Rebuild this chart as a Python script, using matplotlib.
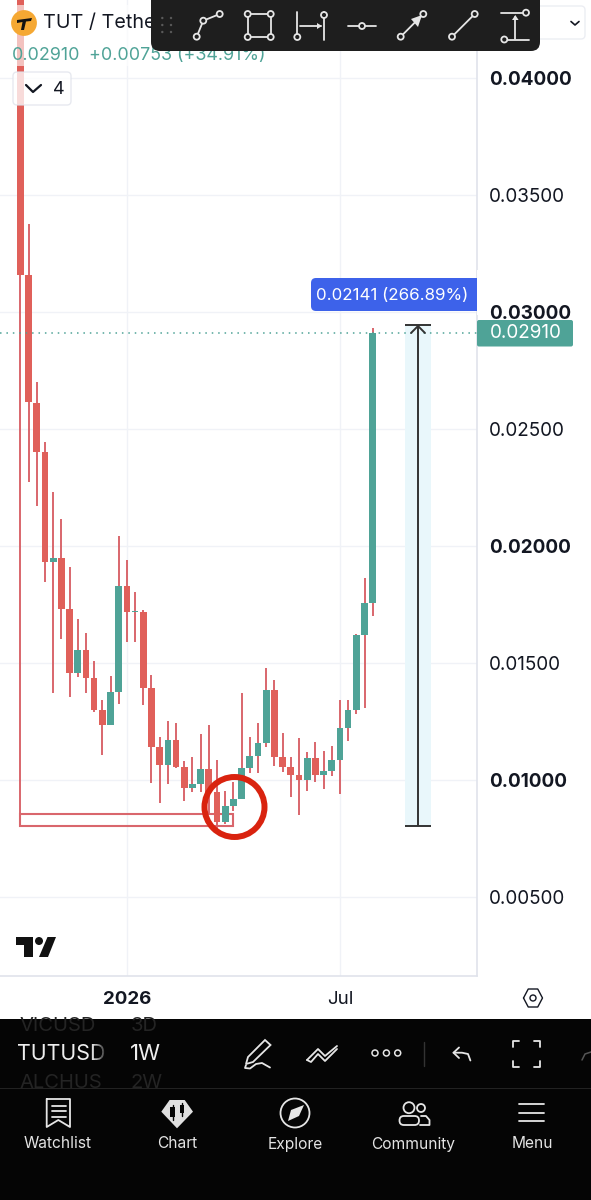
import matplotlib
matplotlib.use("Agg")
import numpy as np
import matplotlib.pyplot as plt
from matplotlib.patches import Rectangle, Circle, Polygon, FancyBboxPatch

plt.rcParams['font.family'] = ['Inter', 'DejaVu Sans']

# weekly candles, oldest first (first open/high are above the visible range)
opens = [0.04600, 0.03158, 0.02611, 0.02402, 0.01932, 0.01949, 0.01732, 0.01459, 0.01556, 0.01436, 0.01299,
         0.01235, 0.01376, 0.01829, 0.01716, 0.01718, 0.01393, 0.01141, 0.01064, 0.01173, 0.01056, 0.00966,
         0.00983, 0.01047, 0.00948, 0.00822, 0.00889, 0.00919, 0.01051, 0.01103, 0.01158, 0.01383, 0.01100,
         0.01057, 0.01021, 0.01000, 0.01094, 0.01023, 0.01038, 0.01085, 0.01222, 0.01299, 0.01620, 0.01755]
closes = [0.03158, 0.02615, 0.02402, 0.01932, 0.01949, 0.01732, 0.01459, 0.01556, 0.01436, 0.01299, 0.01235,
          0.01376, 0.01829, 0.01718, 0.01720, 0.01393, 0.01141, 0.01064, 0.01171, 0.01056, 0.00966, 0.00983,
          0.01047, 0.00949, 0.00822, 0.00889, 0.00919, 0.01051, 0.01103, 0.01158, 0.01383, 0.01100, 0.01057,
          0.01023, 0.01000, 0.01094, 0.01023, 0.01038, 0.01085, 0.01222, 0.01299, 0.01620, 0.01755, 0.02910]
highs = [0.04700, 0.03376, 0.02701, 0.02444, 0.02231, 0.02115, 0.01912, 0.01688, 0.01628, 0.01510, 0.01342,
         0.01446, 0.02044, 0.01940, 0.01805, 0.01725, 0.01449, 0.01185, 0.01252, 0.01245, 0.01082, 0.01100,
         0.01197, 0.01235, 0.01085, 0.00954, 0.00991, 0.01373, 0.01185, 0.01244, 0.01479, 0.01427, 0.01201,
         0.01100, 0.01181, 0.01120, 0.01162, 0.01125, 0.01147, 0.01342, 0.01342, 0.01624, 0.01863, 0.02932]
lows = [0.00803, 0.02273, 0.02171, 0.01846, 0.01372, 0.01603, 0.01356, 0.01440, 0.01373, 0.01291, 0.01107,
        0.01235, 0.01325, 0.01590, 0.01590, 0.01321, 0.00988, 0.00902, 0.00983, 0.01053, 0.00912, 0.00950,
        0.00950, 0.00850, 0.00786, 0.00812, 0.00868, 0.00917, 0.01031, 0.01031, 0.01142, 0.01060, 0.01035,
        0.00927, 0.00850, 0.00954, 0.00993, 0.00962, 0.01018, 0.00941, 0.01168, 0.01282, 0.01309, 0.01702]

price_ticks = [0.005, 0.010, 0.015, 0.020, 0.025, 0.030, 0.035, 0.040]
bold_prices = [0.010, 0.020, 0.030, 0.040]
time_ticks = [13, 39]
time_labels = ['2026', 'Jul']
last_price = 0.02910
measure_low = 0.00802
measure_high = 0.02943
box_low = 0.00802
box_high = 0.00853

GREEN = '#4fa397'
RED = '#e0605a'
WICK = '#d9666c'
GRID = '#f0f2f7'
BORDER = '#e0e3eb'
INK = '#131722'
ICON = '#e6e6e6'

W, H = 591, 1200
fig = plt.figure(figsize=(W / 100, H / 100), dpi=100, facecolor='white')

# chart pane
ax = fig.add_axes([0, 1 - 976 / H, 477 / W, 976 / H])
ax.set_xlim(-20.4 / 8.193, (477 - 20.4) / 8.193)
ax.set_ylim(0.04 - 898 / 23400, 0.04 + 78 / 23400)
for s in ['top', 'left']:
    ax.spines[s].set_visible(False)
ax.spines['right'].set_color(BORDER)
ax.spines['bottom'].set_color(BORDER)
ax.spines['right'].set_linewidth(1.2)
ax.spines['bottom'].set_linewidth(1.2)
ax.set_axisbelow(True)
ax.grid(True, color=GRID, lw=1)
ax.yaxis.tick_right()
ax.set_yticks(price_ticks)
ax.set_yticklabels(['%.5f' % p for p in price_ticks])
for lab, p in zip(ax.get_yticklabels(), price_ticks):
    lab.set_fontweight('bold' if p in bold_prices else 'normal')
    lab.set_color(INK)
ax.set_xticks(time_ticks)
ax.set_xticklabels(time_labels)
ax.get_xticklabels()[0].set_fontweight('bold')
ax.tick_params(axis='y', length=0, pad=8.5, labelsize=13.6)
ax.tick_params(axis='x', length=0, pad=11, labelsize=13.5, labelcolor=INK)

# long position box and measure tool sit under the candles
ax.add_patch(Rectangle((46.95, measure_low), 3.17, measure_high - measure_low, fc='#e9f7fb', ec='none', zorder=1))
ax.add_patch(Rectangle((0, box_low), 26, box_high - box_low, fc='none', ec=WICK, lw=1.5, zorder=2))

x = np.arange(len(opens))
o, c = np.array(opens), np.array(closes)
colors = [GREEN if b >= a else RED for a, b in zip(opens, closes)]
ax.vlines(x, lows, highs, color=WICK, lw=1.4, zorder=3)
ax.bar(x, np.maximum(np.abs(c - o), 0.00005), bottom=np.minimum(o, c), width=0.82, color=colors, zorder=4)

ax.axhline(last_price, color=GREEN, lw=1.1, ls=(0, (1, 3.2)), zorder=5)
ax.vlines(48.5, measure_low, measure_high, color='#333333', lw=1.4, zorder=6)
ax.hlines([measure_low, measure_high], 46.95, 50.12, color='#333333', lw=1.4, zorder=6)

# everything that belongs to the app itself is drawn in pixel coordinates
ui = fig.add_axes([0, 0, 1, 1], facecolor='none')
ui.set_xlim(0, W)
ui.set_ylim(H, 0)
ui.axis('off')


def line(xs, ys, color=ICON, lw=1.3, z=20):
    ui.plot(xs, ys, color=color, lw=lw, solid_capstyle='round', solid_joinstyle='round', zorder=z)


def ring(cx, cy, r, color=ICON, fc='none', lw=1.3, z=21):
    ui.add_patch(Circle((cx, cy), r, fc=fc, ec=color, lw=lw, zorder=z))


def rbox(x0, y0, w, h, r, fc, ec='none', lw=1, alpha=None, z=10):
    p = FancyBboxPatch((x0 + r, y0 + r), w - 2 * r, h - 2 * r, boxstyle='round,pad=%g' % r,
                       fc=fc, ec=ec, lw=lw, alpha=alpha, zorder=z)
    ui.add_patch(p)
    return p


# arrow head on the measure tool
line([411, 418, 425], [333, 326, 333], color='#333333', lw=1.4, z=6)

# legend
ui.add_patch(Rectangle((13, 5), 260, 61, fc='white', alpha=0.62, ec='none', zorder=8))
rbox(13, 72, 58, 33, 4, 'white', ec='#e0e3eb', lw=1, alpha=0.78, z=8)
ring(24, 23, 12, color='#f5a833', fc='#f5a833', z=9)
ui.add_patch(Polygon([(17, 20), (32, 18), (31, 21), (26, 21.5), (24, 30), (21, 30), (22.5, 22), (17, 23)],
                     fc='#111111', ec='none', zorder=10))
ui.text(43, 23, 'TUT / Tether', fontsize=14.2, color=INK, va='center', zorder=9)
ui.text(12, 55, '0.02910', fontsize=12.9, color=GREEN, va='center', zorder=9)
ui.text(89, 55, '+0.00753 (+34.91%)', fontsize=12.9, color=GREEN, va='center', zorder=9)
line([26, 33, 41], [85, 92, 85], color=INK, lw=1.6, z=9)
ui.text(59, 89, '4', fontsize=13, color=INK, ha='center', va='center', zorder=9)

# drawing toolbar
rbox(495, 6, 90, 33, 4, 'white', ec='#eceef3', lw=1, z=9)
line([571, 575, 579], [21.5, 25, 21.5], color=INK, lw=1.2, z=9)
rbox(151, -12, 389, 63, 9, '#1e1e1e', z=12)
for gx in [162.3, 171]:
    for gy in [18, 25, 32]:
        ui.add_patch(Circle((gx, gy), 1.2, fc='#5a5a5a', ec='none', zorder=13))
# path
line([196.7, 203.3, 219.7], [36.7, 20.7, 14])
for p in [(196.7, 36.7), (203.3, 20.7), (219.7, 14)]:
    ring(p[0], p[1], 3, fc='#1e1e1e')
# rectangle
line([247.7, 270.7, 270.7, 247.7, 247.7], [14, 14, 37, 37, 14])
for p in [(247.7, 14), (270.7, 14), (247.7, 37), (270.7, 37)]:
    ring(p[0], p[1], 3, fc='#1e1e1e')
# date range
line([297.3, 297.3], [12, 37])
line([324, 324], [12, 40])
line([300, 321], [26, 26])
ui.add_patch(Polygon([(322, 26), (317, 23), (317, 29)], fc=ICON, ec='none', zorder=21))
ring(297.3, 37, 3, fc='#1e1e1e')
ring(324, 15, 3, fc='#1e1e1e')
# horizontal line
line([348.3, 376], [26, 26])
ring(362, 26, 3, fc='#1e1e1e')
# arrow
line([400.7, 423.3], [36.7, 14])
ui.add_patch(Polygon([(422, 15), (411, 19), (418, 27)], fc=ICON, ec='none', zorder=21))
ring(400.7, 36.7, 3, fc='#1e1e1e')
ring(423.3, 14, 3, fc='#1e1e1e')
# trend line
line([452, 474.7], [36.7, 14])
ring(452, 36.7, 3, fc='#1e1e1e')
ring(474.7, 14, 3, fc='#1e1e1e')
# price range
line([501, 526], [12.7, 12.7])
line([504, 529], [39.5, 39.5])
line([515.3, 515.3], [39, 17])
ui.add_patch(Polygon([(515.3, 15), (512, 20), (518.6, 20)], fc=ICON, ec='none', zorder=21))
ring(526, 12.7, 3, fc='#1e1e1e')
ring(504.3, 39.5, 3, fc='#1e1e1e')

# labels on the price axis
rbox(311, 278, 172, 33, 5, '#3d62ea', z=9)
ui.add_patch(Rectangle((477, 270), 8, 45, fc='white', ec='none', zorder=9))
ui.text(316, 295, '0.02141 (266.89%)', fontsize=12.2, color='white', va='center', zorder=10)
rbox(477, 320, 96, 26.5, 2, GREEN, z=11)
ui.text(489.5, 333.5, '0.02910', fontsize=13.6, color='white', va='center', zorder=12)

# hand drawn circle round the low
ring(234.5, 807, 30, color='#d9230f', lw=4.3, z=7)

# tv logo
ui.add_patch(Polygon([(16, 937), (33, 937), (33, 957), (24, 957), (24, 945), (16, 945)], fc='#111111', ec='none', zorder=7))
ui.add_patch(Circle((39, 941), 4, fc='#111111', ec='none', zorder=7))
ui.add_patch(Polygon([(47.5, 937), (56, 937), (48, 957), (39, 957)], fc='#111111', ec='none', zorder=7))

# settings hexagon
hx = 533 + 9.5 * np.array([-1, -0.5, 0.5, 1, 0.5, -0.5, -1])
hy = 998 + 9 * np.array([0, -1, -1, 0, 1, 1, 0])
line(hx, hy, color=INK, lw=1.0)
ring(533, 998, 3, color=INK, lw=1.0)

# bottom panel
panel = rbox(0, 1019, W, 200, 9, '#050505', z=15)
ui.add_patch(Rectangle((0, 1019), W, 20, fc='#050505', ec='none', zorder=15))
ui.add_patch(Rectangle((0, 1088), W, 1, fc='#222222', ec='none', zorder=16))
strip = Rectangle((0, 1019), W, 69, transform=ui.transData)
for tx, ty, s in [(19, 1026, 'VICUSD'), (131, 1026, '3D'), (19, 1083, 'ALCHUS'), (131, 1083, '2W')]:
    t = ui.text(tx, ty, s, fontsize=14.5, color='#242424', va='center', zorder=17)
    t.set_clip_path(strip)
ui.text(17, 1054, 'TUTUSD', fontsize=15.4, color='#eeeeee', va='center', zorder=17)
ui.text(130, 1054, '1W', fontsize=16, color='#eeeeee', va='center', zorder=17)
for i in range(10):
    ui.add_patch(Rectangle((92 + i * 1.5, 1040), 1.5, 28, fc='#050505', alpha=0.08 + i * 0.09, ec='none', zorder=18))

# pen
ui.add_patch(Polygon([(265, 1040), (270.5, 1045), (253, 1062), (246, 1064), (248, 1057)], fc='none', ec=ICON, lw=1.3, zorder=20))
line([246, 245, 250, 256, 262, 270], [1065, 1068, 1068.5, 1064, 1063, 1067.5])
# zigzag
line([307, 318, 325, 337], [1060, 1049, 1056, 1046])
line([307, 311, 318, 325, 332, 337], [1060, 1062, 1054, 1061, 1054, 1049])
for dx in [375, 386.4, 397.7]:
    ring(dx, 1053, 3, lw=1.1)
line([424.4, 424.4], [1042, 1066], color='#333333', lw=1)
# undo
line([459, 453.5, 459], [1047.5, 1052.7, 1058])
line([453.5, 462, 468, 470.4], [1052.7, 1052.7, 1054, 1060.5])
# fullscreen corners
for cx, sx in [(513.4, 1), (539.8, -1)]:
    for cy, sy in [(1040.7, 1), (1066.7, -1)]:
        line([cx + 6 * sx, cx, cx], [cy, cy, cy + 6 * sy])
line([582, 585, 591], [1060, 1054, 1052], color='#555555', lw=1.1)

# nav icons
line([46.7, 70, 70, 58.3, 46.7, 46.7], [1099, 1099, 1127, 1120, 1127, 1099])
for ly in [1105.7, 1111, 1116.7]:
    line([51.5, 65.5], [ly, ly])
ui.add_patch(Polygon([(161.3, 1111.7), (169.6, 1100), (184.7, 1100), (193, 1111.7), (177, 1128.3)], fc='#e0e0e0', ec='none', zorder=20))
for cx, y0, y1 in [(172.5, 1107, 1117), (182, 1105, 1113)]:
    line([cx, cx], [y0 - 2.5, y1 + 2.5], color='#050505', lw=1, z=21)
    ui.add_patch(Rectangle((cx - 2.2, y0), 4.4, y1 - y0, fc='#050505', ec='none', zorder=21))
ring(295, 1113, 14.5)
ui.add_patch(Polygon([(288, 1121), (291, 1110), (304, 1105), (299, 1116)], fc=ICON, ec='none', zorder=21))
ring(409, 1107.7, 5.5)
ring(421, 1108, 4)
rbox(399.5, 1116, 19.5, 9, 4.4, 'none', ec=ICON, lw=1.3, z=21)
line([421, 426, 429.5, 429.5, 420], [1116, 1116, 1120, 1125, 1125])
for ly in [1104, 1112.7, 1121]:
    line([519.4, 544], [ly, ly])

nav_names = ['Watchlist', 'Chart', 'Explore', 'Community', 'Menu']
nav_x = [58, 177, 295, 413.5, 532]
for nx, name in zip(nav_x, nav_names):
    ui.text(nx, 1144, name, fontsize=11.2, color='#e4e4e4', ha='center', va='center', zorder=20)

fig.savefig('out.png', dpi=100, facecolor='white')
